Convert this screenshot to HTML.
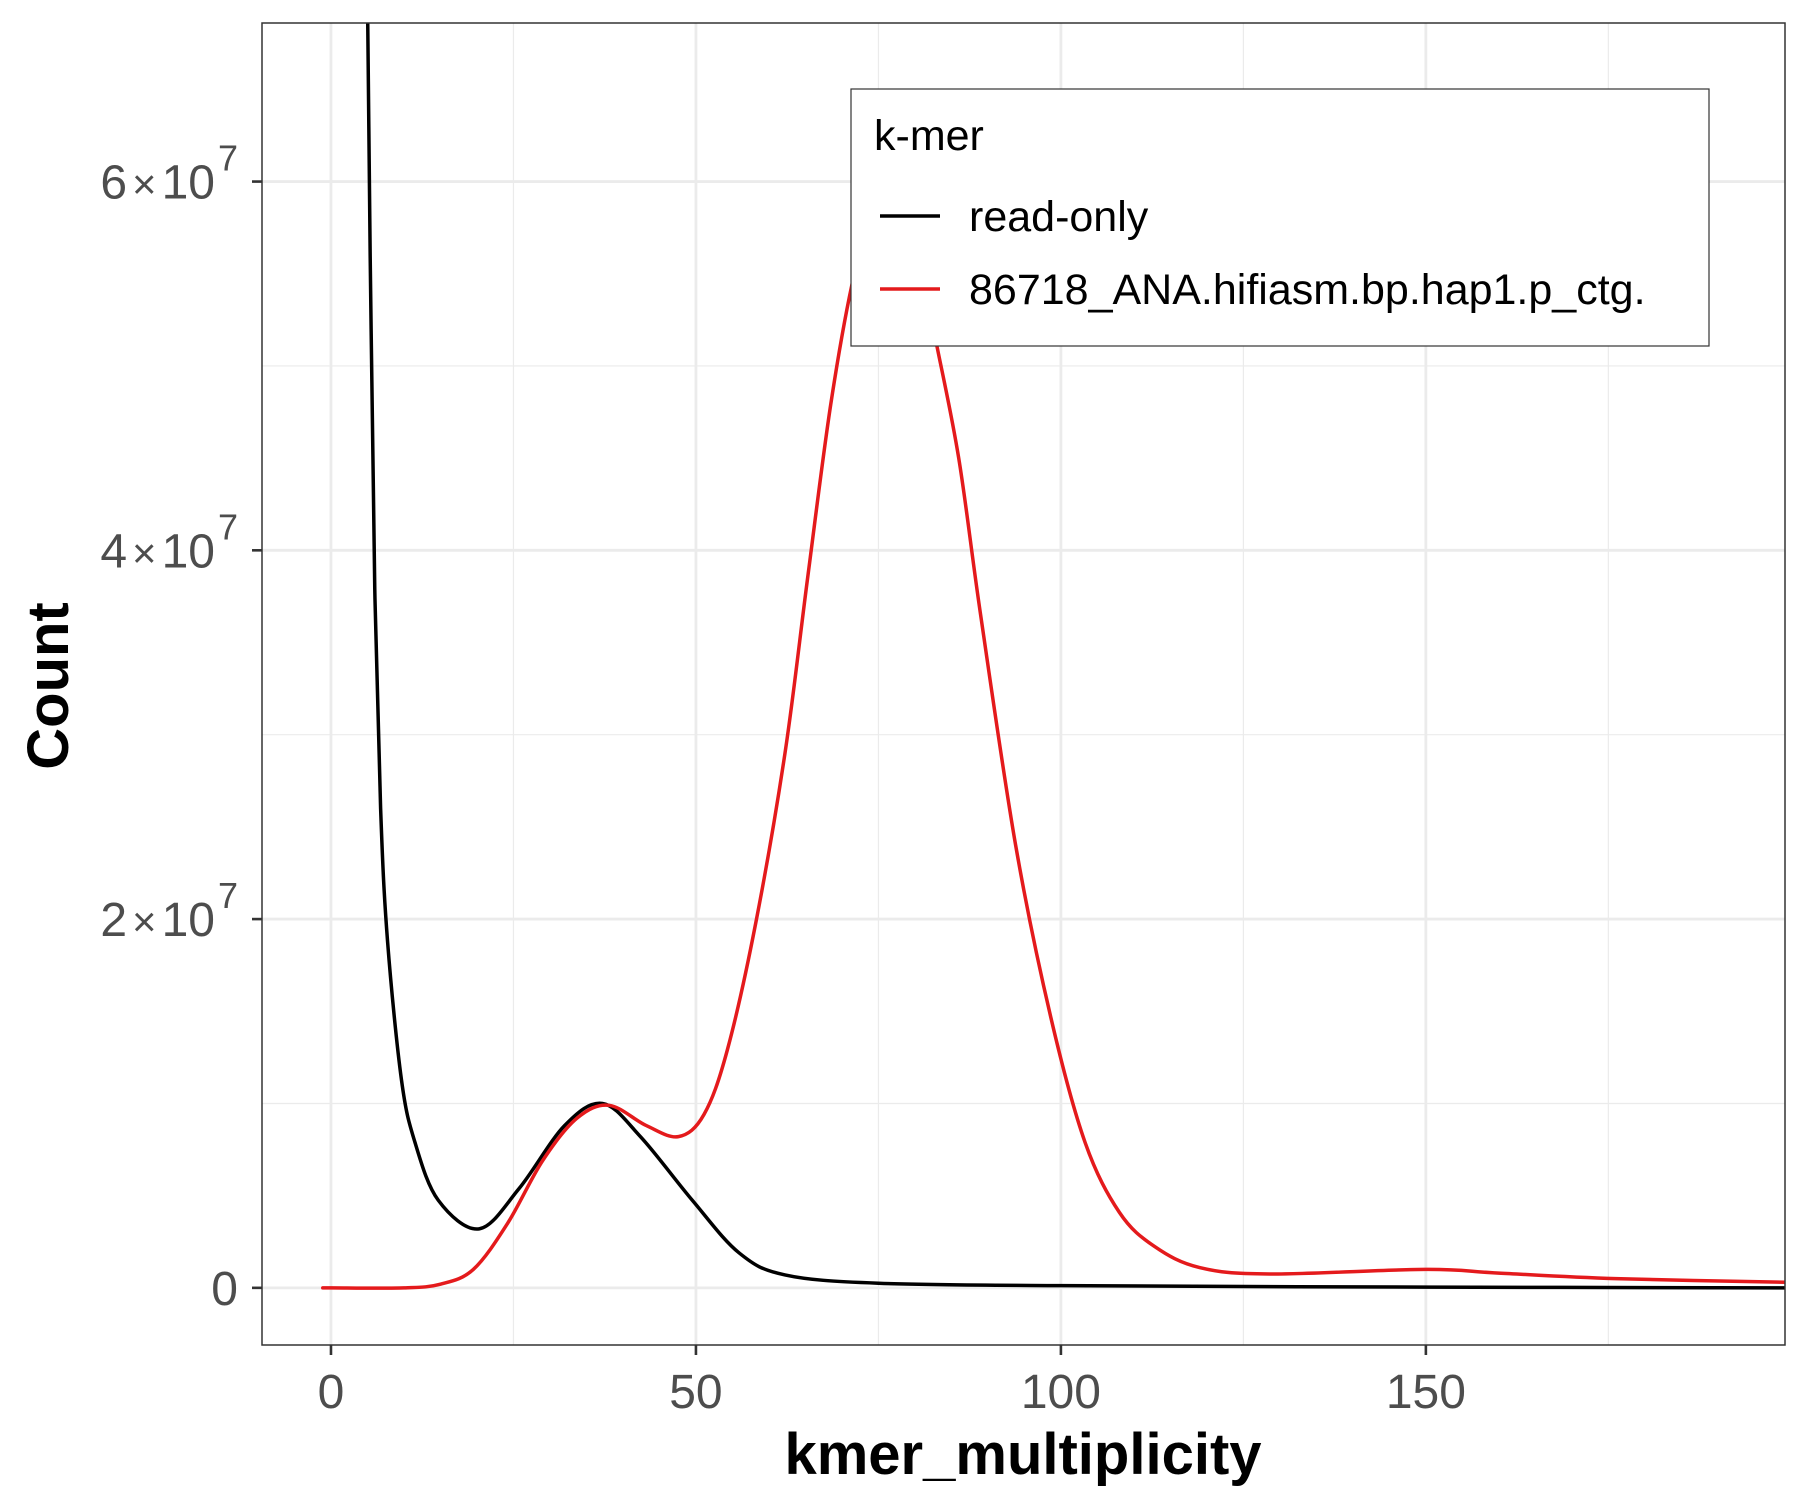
<!DOCTYPE html>
<html><head><meta charset="utf-8"><style>
html,body{margin:0;padding:0;background:#fff}
svg{display:block;font-family:"Liberation Sans","DejaVu Sans",sans-serif}
</style></head><body>
<svg id="chart" width="1800" height="1500" viewBox="0 0 1800 1500">
<rect width="1800" height="1500" fill="#fff"/>
<g id="grid"></g>
<g id="series"></g>
<rect x="262" y="23" width="1523" height="1322" fill="none" stroke="#333" stroke-width="1.5"/>
<g id="axes"></g>
<text x="1023" y="1474" text-anchor="middle" font-size="58" font-weight="bold">kmer_multiplicity</text>
<text transform="translate(68,686) rotate(-90)" text-anchor="middle" font-size="58" font-weight="bold">Count</text>
<g>
<rect x="851" y="89" width="858" height="257" fill="#fff" stroke="#333" stroke-width="1.2"/>
<text x="874" y="150" font-size="43">k-mer</text>
<line x1="880" y1="216" x2="940" y2="216" stroke="#000" stroke-width="3.5"/>
<text x="969" y="231" font-size="43">read-only</text>
<line x1="880" y1="289" x2="940" y2="289" stroke="#e41a1c" stroke-width="3.5"/>
<text x="969" y="304" font-size="43">86718_ANA.hifiasm.bp.hap1.p_ctg.</text>
</g>
</svg>
<script>
const xTicks=[0,50,100,150];
const xMinor=[25,75,125,175];
const yTicks=[0,2e7,4e7,6e7];
const yTickLabels=["0","2","4","6"];
const yMinor=[1e7,3e7,5e7];
const readX=[4,5,5.5,6,6.8,7.75,9.65,11.5,14.7,20.3,25.8,32,37.2,42.4,49.5,55.9,62.2,75,100,150,200];
const readY=[1.2e8,7e7,5.2e7,3.79e7,2.6e7,1.88e7,1.13e7,7.9e6,4.75e6,3.2e6,5.4e6,8.8e6,1.0e7,8.2e6,4.75e6,1.9e6,7e5,2.5e5,1.2e5,4e4,0];
const asmX=[-1,0,10,15,19.5,24.2,29,33.7,38.1,43.2,47.6,51.1,54.3,58.2,62.2,65.3,68.5,71.7,74.5,77,80,82.8,86,89,93.8,98.6,103.3,108,112.8,119,128.6,150,160,176,200];
const asmY=[0,0,0,2e5,1e6,3.5e6,6.9e6,9.2e6,9.9e6,8.8e6,8.2e6,9.4e6,1.29e7,1.98e7,2.9e7,3.85e7,4.8e7,5.5e7,5.85e7,5.95e7,5.7e7,5.15e7,4.5e7,3.65e7,2.4e7,1.47e7,7.9e6,4.1e6,2.25e6,1.1e6,7.5e5,1.0e6,8e5,5e5,3e5];
const NS="http://www.w3.org/2000/svg";
const X0=262,X1=1785,Y0=23,Y1=1345;
const xmin=-9.45,xmax=199.2,ymin=-3.1e6,ymax=6.86e7;
function sx(v){return X0+(v-xmin)/(xmax-xmin)*(X1-X0);}
function sy(v){return Y1-(v-ymin)/(ymax-ymin)*(Y1-Y0);}
function mk(tag,attrs,parent){const e=document.createElementNS(NS,tag);for(const k in attrs)e.setAttribute(k,attrs[k]);parent.appendChild(e);return e;}
const grid=document.getElementById('grid'),axes=document.getElementById('axes'),series=document.getElementById('series');
mk('rect',{x:X0,y:Y0,width:X1-X0,height:Y1-Y0,fill:'#fff'},grid);
xMinor.forEach(v=>{const l=mk('line',{x1:sx(v),x2:sx(v),y1:Y0,y2:Y1,stroke:'#ebebeb','stroke-width':1.2},grid);

});
yMinor.forEach(v=>{const l=mk('line',{x1:X0,x2:X1,y1:sy(v),y2:sy(v),stroke:'#ebebeb','stroke-width':1.2},grid);

});
xTicks.forEach(v=>{const l=mk('line',{x1:sx(v),x2:sx(v),y1:Y0,y2:Y1,stroke:'#ebebeb','stroke-width':2.8},grid);


const t=mk('line',{x1:sx(v),x2:sx(v),y1:Y1,y2:Y1+10,stroke:'#333','stroke-width':2.6},axes);


const tx=mk('text',{x:sx(v),y:1408,'text-anchor':'middle','font-size':48,fill:'#4d4d4d'},axes);
tx.textContent=String(v);

});
yTicks.forEach((v,i)=>{const l=mk('line',{x1:X0,x2:X1,y1:sy(v),y2:sy(v),stroke:'#ebebeb','stroke-width':2.8},grid);


const t=mk('line',{x1:X0-10,x2:X0,y1:sy(v),y2:sy(v),stroke:'#333','stroke-width':2.6},axes);


const tx=mk('text',{x:238,y:sy(v)+17,'text-anchor':'end','font-size':48,fill:'#4d4d4d'},axes);
if(v===0){tx.textContent='0';}else{
tx.innerHTML=yTickLabels[i]+'<tspan font-size="42" dx="5">×</tspan><tspan dx="5">10</tspan><tspan font-size="36" dy="-28" dx="3">7</tspan>';}

});
function pathFrom(xs,ys){const p=xs.map((x,i)=>[sx(x),sy(ys[i])]);let d='M'+p[0][0]+','+p[0][1];
for(let i=0;i<p.length-1;i++){const p0=p[i-1]||p[i],p1=p[i],p2=p[i+1],p3=p[i+2]||p2;
const c1=[p1[0]+(p2[0]-p0[0])/6,p1[1]+(p2[1]-p0[1])/6],c2=[p2[0]-(p3[0]-p1[0])/6,p2[1]-(p3[1]-p1[1])/6];
d+=' C'+c1[0]+','+c1[1]+' '+c2[0]+','+c2[1]+' '+p2[0]+','+p2[1];}return d;}
const clip=mk('clipPath',{id:'pc'},series);mk('rect',{x:X0,y:Y0,width:X1-X0,height:Y1-Y0},clip);
const r=mk('path',{d:pathFrom(readX,readY),fill:'none',stroke:'#000','stroke-width':3.5,'clip-path':'url(#pc)'},series);


const a=mk('path',{d:pathFrom(asmX,asmY),fill:'none',stroke:'#e41a1c','stroke-width':3.5,'clip-path':'url(#pc)'},series);


</script>
</body></html>
